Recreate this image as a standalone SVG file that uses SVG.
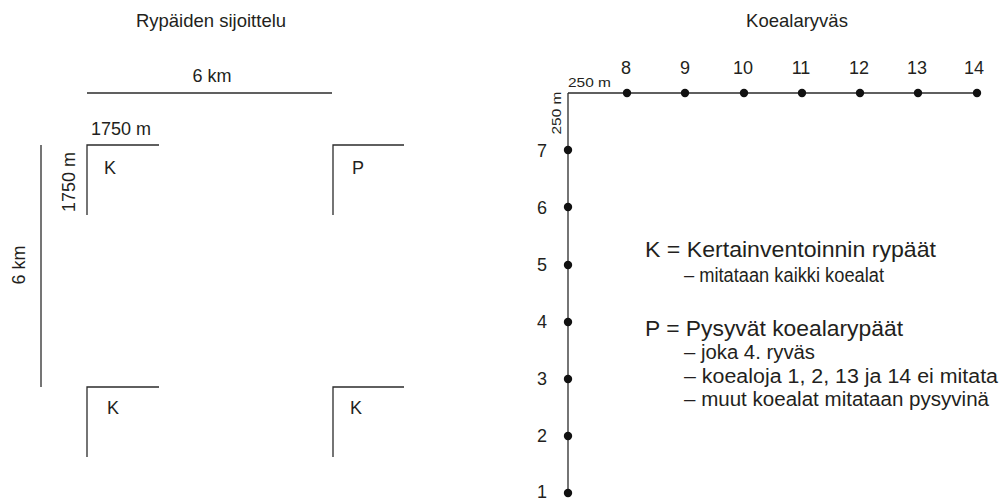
<svg xmlns="http://www.w3.org/2000/svg" width="1000" height="499" viewBox="0 0 1000 499">
<style>
text{font-family:"Liberation Sans",Arial,sans-serif;fill:#231f20}
.t{font-size:18.5px}
.n{font-size:18px}
.s{font-size:13.5px}
.L{font-size:22px}
.l{font-size:20px}
.ln{stroke:#2b2b2b;stroke-width:1.3;fill:none}
.dot{fill:#111}
</style>
<rect width="1000" height="499" fill="#fff"/>
<g id="left">
<text class="t" x="211" y="27" text-anchor="middle">Rypäiden sijoittelu</text>
<text class="n" x="212" y="82" text-anchor="middle">6 km</text>
<text class="n" x="91" y="135">1750 m</text>
<text class="n" transform="translate(75,182) rotate(-90)" text-anchor="middle">1750 m</text>
<text class="n" transform="translate(25,265) rotate(-90)" text-anchor="middle">6 km</text>
</g>
<g id="connectors">
<line class="ln" x1="87" y1="93" x2="332" y2="93"/>
<line class="ln" x1="41" y1="145" x2="41" y2="387"/>
<path class="ln" d="M568 93H977M568 93V492"/>
</g>
<g id="cluster-k1"><path class="ln" d="M159 145H87V215"/><text class="n" x="104" y="174">K</text></g>
<g id="cluster-p"><path class="ln" d="M404 145H333V215"/><text class="n" x="352" y="174">P</text></g>
<g id="cluster-k2"><path class="ln" d="M159 387H87V457"/><text class="n" x="107" y="414">K</text></g>
<g id="cluster-k3"><path class="ln" d="M404 387H333V457"/><text class="n" x="350" y="414">K</text></g>
<g id="right">
<text class="t" x="797" y="27" text-anchor="middle">Koealaryväs</text>
<text class="s" x="568" y="87" textLength="43" lengthAdjust="spacingAndGlyphs">250 m</text>
<text class="s" transform="translate(561,113) rotate(-90)" text-anchor="middle" textLength="43" lengthAdjust="spacingAndGlyphs">250 m</text>
</g>
<g id="plots" text-anchor="middle">
<circle class="dot" cx="627" cy="93" r="4.2"/><text class="n" x="626" y="74">8</text>
<circle class="dot" cx="685" cy="93" r="4.2"/><text class="n" x="685" y="74">9</text>
<circle class="dot" cx="744" cy="93" r="4.2"/><text class="n" x="743" y="74">10</text>
<circle class="dot" cx="802" cy="93" r="4.2"/><text class="n" x="801" y="74">11</text>
<circle class="dot" cx="860" cy="93" r="4.2"/><text class="n" x="859" y="74">12</text>
<circle class="dot" cx="918" cy="93" r="4.2"/><text class="n" x="917" y="74">13</text>
<circle class="dot" cx="977" cy="93" r="4.2"/><text class="n" x="974" y="74">14</text>
<circle class="dot" cx="568" cy="150" r="4.2"/><text class="n" x="542" y="157">7</text>
<circle class="dot" cx="568" cy="207" r="4.2"/><text class="n" x="542" y="214">6</text>
<circle class="dot" cx="568" cy="265" r="4.2"/><text class="n" x="542" y="271">5</text>
<circle class="dot" cx="568" cy="322" r="4.2"/><text class="n" x="542" y="328">4</text>
<circle class="dot" cx="568" cy="379" r="4.2"/><text class="n" x="542" y="385">3</text>
<circle class="dot" cx="568" cy="436" r="4.2"/><text class="n" x="542" y="442">2</text>
<circle class="dot" cx="568" cy="493" r="4.2"/><text class="n" x="542" y="498">1</text>
</g>
<g id="legend">
<text class="L" x="645" y="257" textLength="291" lengthAdjust="spacingAndGlyphs">K = Kertainventoinnin rypäät</text>
<text class="l" x="684" y="282" textLength="200" lengthAdjust="spacingAndGlyphs">– mitataan kaikki koealat</text>
<text class="L" x="645" y="336" textLength="258" lengthAdjust="spacingAndGlyphs">P = Pysyvät koealarypäät</text>
<text class="l" x="684" y="359" textLength="131" lengthAdjust="spacingAndGlyphs">– joka 4. ryväs</text>
<text class="l" x="684" y="383" textLength="314" lengthAdjust="spacingAndGlyphs">– koealoja 1, 2, 13 ja 14 ei mitata</text>
<text class="l" x="684" y="406" textLength="305" lengthAdjust="spacingAndGlyphs">– muut koealat mitataan pysyvinä</text>
</g>
</svg>
